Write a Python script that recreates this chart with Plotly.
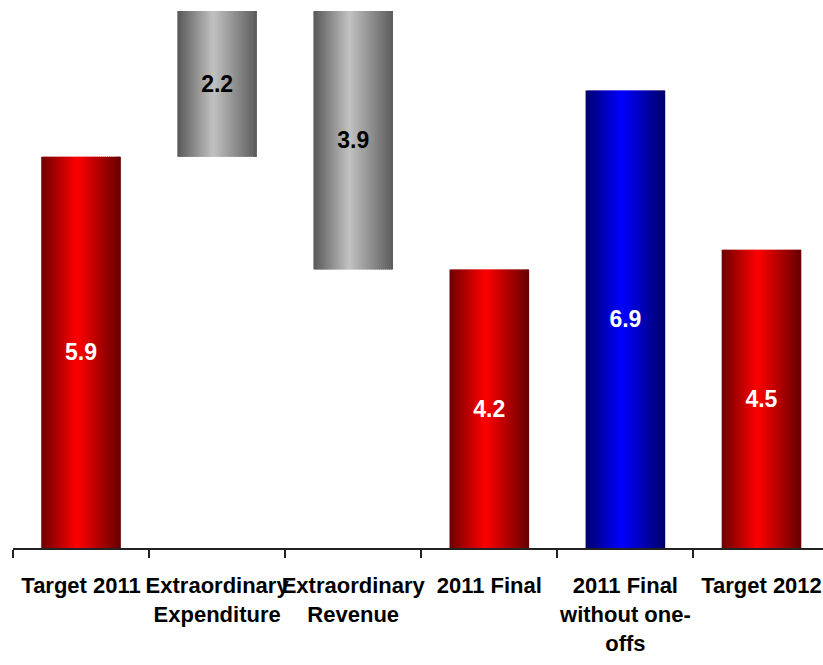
import plotly.graph_objects as go

# ---- data ----
categories = ["Target 2011", "Extraordinary<br>Expenditure", "Extraordinary<br>Revenue",
              "2011 Final", "2011 Final<br>without one-<br>offs", "Target 2012"]
values = [5.9, 2.2, 3.9, 4.2, 6.9, 4.5]
labels = ["5.9", "2.2", "3.9", "4.2", "6.9", "4.5"]
kinds = ["red", "gray", "gray", "red", "blue", "red"]

# waterfall bases derived from the data
bases = [0, values[0], values[0] + values[1] - values[2], 0, 0, 0]

# ---- styling ----
FONT = "Liberation Sans, Arial, sans-serif"
BAR_W = 0.585
N_SLICES = 40
gradients = {
    "red": [(0.0, (110, 0, 0)), (0.45, (255, 0, 0)), (1.0, (100, 0, 0))],
    "gray": [(0.0, (88, 88, 88)), (0.45, (194, 194, 194)), (1.0, (92, 92, 92))],
    "blue": [(0.0, (0, 0, 110)), (0.45, (0, 0, 255)), (1.0, (0, 0, 105))],
}
text_colors = {"red": "white", "gray": "black", "blue": "white"}


def grad_color(kind, t):
    stops = gradients[kind]
    for (t0, c0), (t1, c1) in zip(stops[:-1], stops[1:]):
        if t0 <= t <= t1:
            f = (t - t0) / (t1 - t0)
            c = [round(a + (b - a) * f) for a, b in zip(c0, c1)]
            return f"rgb({c[0]},{c[1]},{c[2]})"
    c = stops[-1][1]
    return f"rgb({c[0]},{c[1]},{c[2]})"


fig = go.Figure()
step = BAR_W / N_SLICES
for i in range(N_SLICES):
    t = (i + 0.5) / N_SLICES
    off = -BAR_W / 2 + i * step
    w = step * 1.6 if i < N_SLICES - 1 else step
    fig.add_trace(go.Bar(
        x=categories, y=values, base=bases,
        offset=off, width=w,
        marker=dict(color=[grad_color(k, t) for k in kinds], line=dict(width=0)),
        hoverinfo="skip", showlegend=False,
    ))

# label layer
fig.add_trace(go.Bar(
    x=categories, y=values, base=bases, width=BAR_W,
    marker=dict(color="rgba(0,0,0,0)", line=dict(width=0)),
    text=labels, textposition="inside", insidetextanchor="middle", textangle=0,
    constraintext="none",
    textfont=dict(family=FONT, size=23, weight="bold", color=[text_colors[k] for k in kinds]),
    hoverinfo="skip", showlegend=False,
))

fig.update_layout(
    width=823, height=665,
    margin=dict(l=13, r=0, t=11, b=117, autoexpand=False),
    barmode="overlay",
    plot_bgcolor="white", paper_bgcolor="white",
    font=dict(family=FONT, size=22, color="black", weight="bold"),
    xaxis=dict(
        type="category", range=[-0.5, 5.452], automargin=False,
        showline=True, linecolor="#222", linewidth=2,
        ticks="outside", tickson="boundaries", ticklen=8, tickwidth=2, tickcolor="#222",
        tickangle=0, ticklabelstandoff=17,
        tickfont=dict(family=FONT, size=22, color="black", weight="bold"),
        showgrid=False, zeroline=False,
    ),
    yaxis=dict(range=[0, 8.1], visible=False, showgrid=False, zeroline=False),
)

fig.write_html("out.html")
